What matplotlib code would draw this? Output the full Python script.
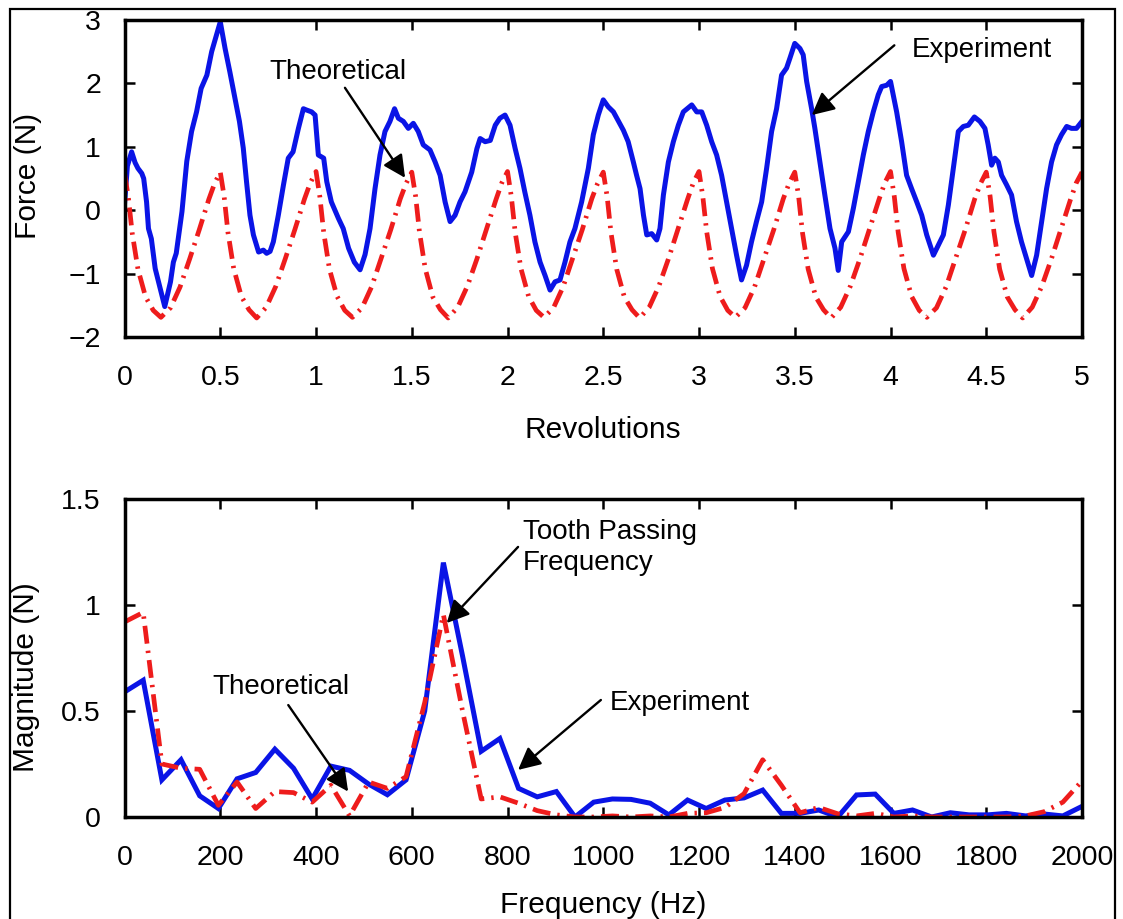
import matplotlib
matplotlib.use('Agg')
import matplotlib.pyplot as plt
from matplotlib.patches import Rectangle

plt.rcParams['font.family'] = ['Liberation Sans', 'DejaVu Sans']

# top panel: force vs revolutions
exp_rev = [0.000, 0.015, 0.037, 0.055, 0.070, 0.090, 0.100, 0.115, 0.125, 0.140,
           0.160, 0.186, 0.210, 0.240, 0.255, 0.270, 0.300, 0.325, 0.350, 0.376,
           0.400, 0.430, 0.455, 0.480, 0.500, 0.525, 0.550, 0.577, 0.600, 0.620,
           0.637, 0.655, 0.673, 0.700, 0.725, 0.742, 0.760, 0.777, 0.803, 0.830,
           0.855, 0.880, 0.908, 0.934, 0.950, 0.977, 0.995, 1.012, 1.040, 1.056,
           1.080, 1.117, 1.142, 1.170, 1.200, 1.230, 1.256, 1.282, 1.308, 1.334,
           1.360, 1.386, 1.410, 1.430, 1.456, 1.482, 1.508, 1.534, 1.560, 1.595,
           1.622, 1.648, 1.674, 1.700, 1.726, 1.752, 1.778, 1.813, 1.840, 1.857,
           1.883, 1.910, 1.936, 1.960, 1.987, 2.013, 2.040, 2.065, 2.090, 2.117,
           2.143, 2.170, 2.196, 2.222, 2.248, 2.274, 2.300, 2.326, 2.352, 2.387,
           2.422, 2.448, 2.474, 2.500, 2.526, 2.553, 2.580, 2.605, 2.630, 2.657,
           2.674, 2.692, 2.710, 2.727, 2.753, 2.779, 2.796, 2.814, 2.840, 2.866,
           2.892, 2.918, 2.962, 2.988, 3.014, 3.040, 3.066, 3.092, 3.118, 3.144,
           3.170, 3.196, 3.222, 3.248, 3.274, 3.300, 3.327, 3.353, 3.379, 3.405,
           3.431, 3.457, 3.475, 3.500, 3.527, 3.544, 3.562, 3.588, 3.605, 3.631,
           3.657, 3.684, 3.710, 3.727, 3.745, 3.780, 3.806, 3.832, 3.858, 3.884,
           3.910, 3.936, 3.954, 3.980, 4.000, 4.032, 4.058, 4.084, 4.110, 4.137,
           4.163, 4.189, 4.224, 4.250, 4.276, 4.302, 4.328, 4.354, 4.380, 4.406,
           4.438, 4.467, 4.493, 4.510, 4.528, 4.545, 4.563, 4.580, 4.606, 4.632,
           4.658, 4.684, 4.710, 4.737, 4.763, 4.789, 4.815, 4.841, 4.867, 4.893,
           4.920, 4.945, 4.971, 5.000]
exp_force = [0.10, 0.70, 0.92, 0.75, 0.66, 0.58, 0.50, 0.13, -0.29, -0.45,
             -0.92, -1.23, -1.52, -1.13, -0.82, -0.68, -0.02, 0.77, 1.24, 1.55,
             1.92, 2.13, 2.50, 2.76, 2.97, 2.55, 2.18, 1.76, 1.40, 0.98,
             0.45, -0.08, -0.39, -0.66, -0.63, -0.68, -0.65, -0.50, -0.08, 0.40,
             0.82, 0.92, 1.29, 1.60, 1.58, 1.55, 1.50, 0.87, 0.82, 0.45,
             0.13, -0.13, -0.29, -0.60, -0.82, -0.94, -0.70, -0.29, 0.34, 0.87,
             1.24, 1.40, 1.60, 1.45, 1.40, 1.29, 1.37, 1.24, 1.03, 0.95,
             0.76, 0.55, 0.13, -0.18, -0.08, 0.13, 0.29, 0.60, 0.97, 1.13,
             1.08, 1.10, 1.34, 1.45, 1.50, 1.34, 0.97, 0.66, 0.29, -0.08,
             -0.50, -0.82, -1.03, -1.26, -1.13, -1.10, -0.82, -0.50, -0.29, 0.13,
             0.66, 1.19, 1.50, 1.74, 1.63, 1.55, 1.40, 1.26, 1.08, 0.76,
             0.55, 0.34, -0.08, -0.39, -0.37, -0.47, -0.29, 0.24, 0.76, 1.08,
             1.34, 1.55, 1.66, 1.55, 1.55, 1.34, 1.08, 0.87, 0.55, 0.13,
             -0.29, -0.71, -1.10, -0.87, -0.50, -0.18, 0.13, 0.66, 1.24, 1.60,
             2.13, 2.24, 2.40, 2.63, 2.55, 2.45, 2.03, 1.60, 1.29, 0.76,
             0.24, -0.29, -0.60, -0.95, -0.50, -0.34, 0.03, 0.45, 0.87, 1.24,
             1.55, 1.82, 1.95, 1.97, 2.03, 1.55, 1.08, 0.55, 0.34, 0.13,
             -0.08, -0.39, -0.71, -0.55, -0.39, 0.08, 0.66, 1.24, 1.32, 1.34,
             1.47, 1.40, 1.29, 1.03, 0.71, 0.82, 0.76, 0.55, 0.40, 0.24,
             -0.18, -0.50, -0.76, -1.03, -0.71, -0.18, 0.34, 0.76, 1.03, 1.19,
             1.32, 1.29, 1.29, 1.40]

theo_rev = [0.00, 0.02, 0.04, 0.07, 0.11, 0.15, 0.19, 0.24, 0.29, 0.34, 0.39, 0.44, 0.47,
            0.50, 0.52, 0.54, 0.57, 0.61, 0.65, 0.69, 0.74, 0.79, 0.84, 0.89, 0.94, 0.97,
            1.00, 1.02, 1.04, 1.07, 1.11, 1.15, 1.19, 1.24, 1.29, 1.34, 1.39, 1.44, 1.47,
            1.50, 1.52, 1.54, 1.57, 1.61, 1.65, 1.69, 1.74, 1.79, 1.84, 1.89, 1.94, 1.97,
            2.00, 2.02, 2.04, 2.07, 2.11, 2.15, 2.19, 2.24, 2.29, 2.34, 2.39, 2.44, 2.47,
            2.50, 2.52, 2.54, 2.57, 2.61, 2.65, 2.69, 2.74, 2.79, 2.84, 2.89, 2.94, 2.97,
            3.00, 3.02, 3.04, 3.07, 3.11, 3.15, 3.19, 3.24, 3.29, 3.34, 3.39, 3.44, 3.47,
            3.50, 3.52, 3.54, 3.57, 3.61, 3.65, 3.69, 3.74, 3.79, 3.84, 3.89, 3.94, 3.97,
            4.00, 4.02, 4.04, 4.07, 4.11, 4.15, 4.19, 4.24, 4.29, 4.34, 4.39, 4.44, 4.47,
            4.50, 4.52, 4.54, 4.57, 4.61, 4.65, 4.69, 4.74, 4.79, 4.84, 4.89, 4.94, 4.97,
            5.00]
theo_force = [0.58, 0.20, -0.36, -0.93, -1.37, -1.58, -1.69, -1.54, -1.21, -0.77, -0.31, 0.17, 0.42,
              0.60, 0.22, -0.35, -0.92, -1.36, -1.57, -1.70, -1.53, -1.20, -0.76, -0.30, 0.18, 0.43,
              0.61, 0.21, -0.35, -0.93, -1.36, -1.58, -1.69, -1.54, -1.21, -0.76, -0.31, 0.18, 0.42,
              0.60, 0.22, -0.34, -0.92, -1.37, -1.57, -1.70, -1.53, -1.20, -0.77, -0.30, 0.17, 0.43,
              0.61, 0.21, -0.35, -0.92, -1.36, -1.58, -1.69, -1.54, -1.21, -0.76, -0.31, 0.18, 0.42,
              0.60, 0.22, -0.35, -0.93, -1.37, -1.57, -1.70, -1.53, -1.20, -0.77, -0.30, 0.17, 0.43,
              0.61, 0.21, -0.34, -0.92, -1.36, -1.58, -1.69, -1.54, -1.21, -0.76, -0.31, 0.18, 0.42,
              0.60, 0.22, -0.35, -0.93, -1.37, -1.57, -1.70, -1.53, -1.20, -0.77, -0.30, 0.17, 0.43,
              0.61, 0.21, -0.35, -0.92, -1.36, -1.58, -1.69, -1.54, -1.21, -0.76, -0.31, 0.18, 0.42,
              0.60, 0.22, -0.34, -0.93, -1.37, -1.57, -1.70, -1.53, -1.20, -0.77, -0.30, 0.17, 0.43,
              0.60]

rev_ticks = [0, 0.5, 1, 1.5, 2, 2.5, 3, 3.5, 4, 4.5, 5]
rev_labels = ['0', '0.5', '1', '1.5', '2', '2.5', '3', '3.5', '4', '4.5', '5']
force_ticks = [-2, -1, 0, 1, 2, 3]

# bottom panel: spectrum
freq = [0, 39, 78, 118, 157, 196, 235, 274, 314, 353, 392, 431, 470,
        510, 549, 588, 627, 666, 706, 745, 784, 823, 862, 902, 941, 980,
        1019, 1058, 1098, 1137, 1176, 1215, 1254, 1294, 1333, 1372, 1411, 1450,
        1490, 1529, 1568, 1607, 1646, 1686, 1725, 1764, 1803, 1842, 1882, 1921,
        1960, 2000]
mag_exp = [0.59, 0.645, 0.175, 0.27, 0.10, 0.04, 0.18, 0.21, 0.32, 0.23, 0.085, 0.24, 0.22,
           0.155, 0.105, 0.175, 0.50, 1.20, 0.76, 0.31, 0.37, 0.135, 0.095, 0.12, 0.0, 0.07,
           0.085, 0.083, 0.065, 0.01, 0.08, 0.04, 0.08, 0.09, 0.127, 0.017, 0.017, 0.033,
           0.0, 0.104, 0.108, 0.017, 0.033, 0.0, 0.02, 0.01, 0.01, 0.017, 0.005, 0.014,
           0.005, 0.05]
mag_theo = [0.92, 0.965, 0.25, 0.23, 0.225, 0.055, 0.165, 0.04, 0.12, 0.115, 0.07, 0.15, 0.005,
            0.165, 0.135, 0.19, 0.54, 0.955, 0.50, 0.085, 0.095, 0.065, 0.03, 0.01, 0.0, 0.0,
            0.005, 0.0, 0.005, 0.0, 0.017, 0.02, 0.045, 0.11, 0.27, 0.15, 0.02, 0.045,
            0.015, 0.005, 0.017, 0.0, 0.005, 0.0, 0.0, 0.0, 0.0, 0.0, 0.005, 0.025,
            0.07, 0.17]

freq_ticks = list(range(0, 2001, 200))
mag_ticks = [0, 0.5, 1, 1.5]
mag_labels = ['0', '0.5', '1', '1.5']

blue = '#0a14e6'
red = '#ee1c1c'
tick_fs = 20.5
label_fs = 21.5
ann_fs = 20

fig = plt.figure(figsize=(11.23, 9.19), dpi=100)
ax1 = fig.add_axes([0.1109, 0.6333, 0.8526, 0.345])
ax2 = fig.add_axes([0.1109, 0.111, 0.8526, 0.346])

ax1.plot(exp_rev, exp_force, color=blue, lw=3.6, solid_joinstyle='round')
ax1.plot(theo_rev, theo_force, color=red, lw=3.4, dashes=(3.8, 1.5, 0.5, 1.5))
ax1.set_xlim(0, 5)
ax1.set_ylim(-2, 3)
ax1.set_xticks(rev_ticks)
ax1.set_xticklabels(rev_labels)
ax1.set_yticks(force_ticks)
ax1.set_xlabel('Revolutions', fontsize=label_fs)
ax1.set_ylabel('Force (N)', fontsize=label_fs)
ax1.xaxis.set_label_coords(0.5, -0.293)
ax1.xaxis.label.set_va('center')
ax1.yaxis.set_label_coords(-0.101, 0.508)
ax1.yaxis.label.set_va('center')

ax2.plot(freq, mag_exp, color=blue, lw=3.6, solid_joinstyle='miter')
ax2.plot(freq, mag_theo, color=red, lw=3.4, dashes=(3.8, 1.5, 0.5, 1.5))
ax2.set_xlim(0, 2000)
ax2.set_ylim(0, 1.5)
ax2.set_xticks(freq_ticks)
ax2.set_yticks(mag_ticks)
ax2.set_yticklabels(mag_labels)
ax2.set_xlabel('Frequency (Hz)', fontsize=label_fs)
ax2.set_ylabel('Magnitude (N)', fontsize=label_fs)
ax2.xaxis.set_label_coords(0.5, -0.277)
ax2.xaxis.label.set_va('center')
ax2.yaxis.set_label_coords(-0.103, 0.44)
ax2.yaxis.label.set_va('center')

for ax in (ax1, ax2):
    ax.tick_params(direction='in', length=7, width=1.8, top=True, right=True,
                   labelsize=tick_fs)
    ax.tick_params(axis='x', pad=20)
    ax.tick_params(axis='y', pad=17)
    for s in ax.spines.values():
        s.set_linewidth(2.5)

arrow = dict(arrowstyle='-|>', mutation_scale=34, lw=1.7, color='k',
             shrinkA=0, shrinkB=0)

ax1.text(1.115, 2.18, 'Theoretical', fontsize=ann_fs, ha='center', va='center')
ax1.annotate('', xy=(1.465, 0.51), xytext=(1.151, 1.93), arrowprops=arrow)
ax1.text(4.478, 2.53, 'Experiment', fontsize=ann_fs, ha='center', va='center')
ax1.annotate('', xy=(3.589, 1.5), xytext=(4.02, 2.6), arrowprops=arrow)

ax2.text(832, 1.27, 'Tooth Passing\nFrequency', fontsize=ann_fs, ha='left',
         va='center', linespacing=1.25)
ax2.annotate('', xy=(673, 0.915), xytext=(822, 1.274), arrowprops=arrow)
ax2.text(327, 0.613, 'Theoretical', fontsize=ann_fs, ha='center', va='center')
ax2.annotate('', xy=(467, 0.12), xytext=(342, 0.528), arrowprops=arrow)
ax2.text(1160, 0.538, 'Experiment', fontsize=ann_fs, ha='center', va='center')
ax2.annotate('', xy=(822, 0.222), xytext=(995, 0.552), arrowprops=arrow)

# thin frame round the whole picture
fig.add_artist(Rectangle((10 / 1123, -0.01), 1105 / 1123, 1.0002,
                         transform=fig.transFigure, fill=False, lw=1.6, ec='k'))

fig.savefig('out.png', dpi=100)
